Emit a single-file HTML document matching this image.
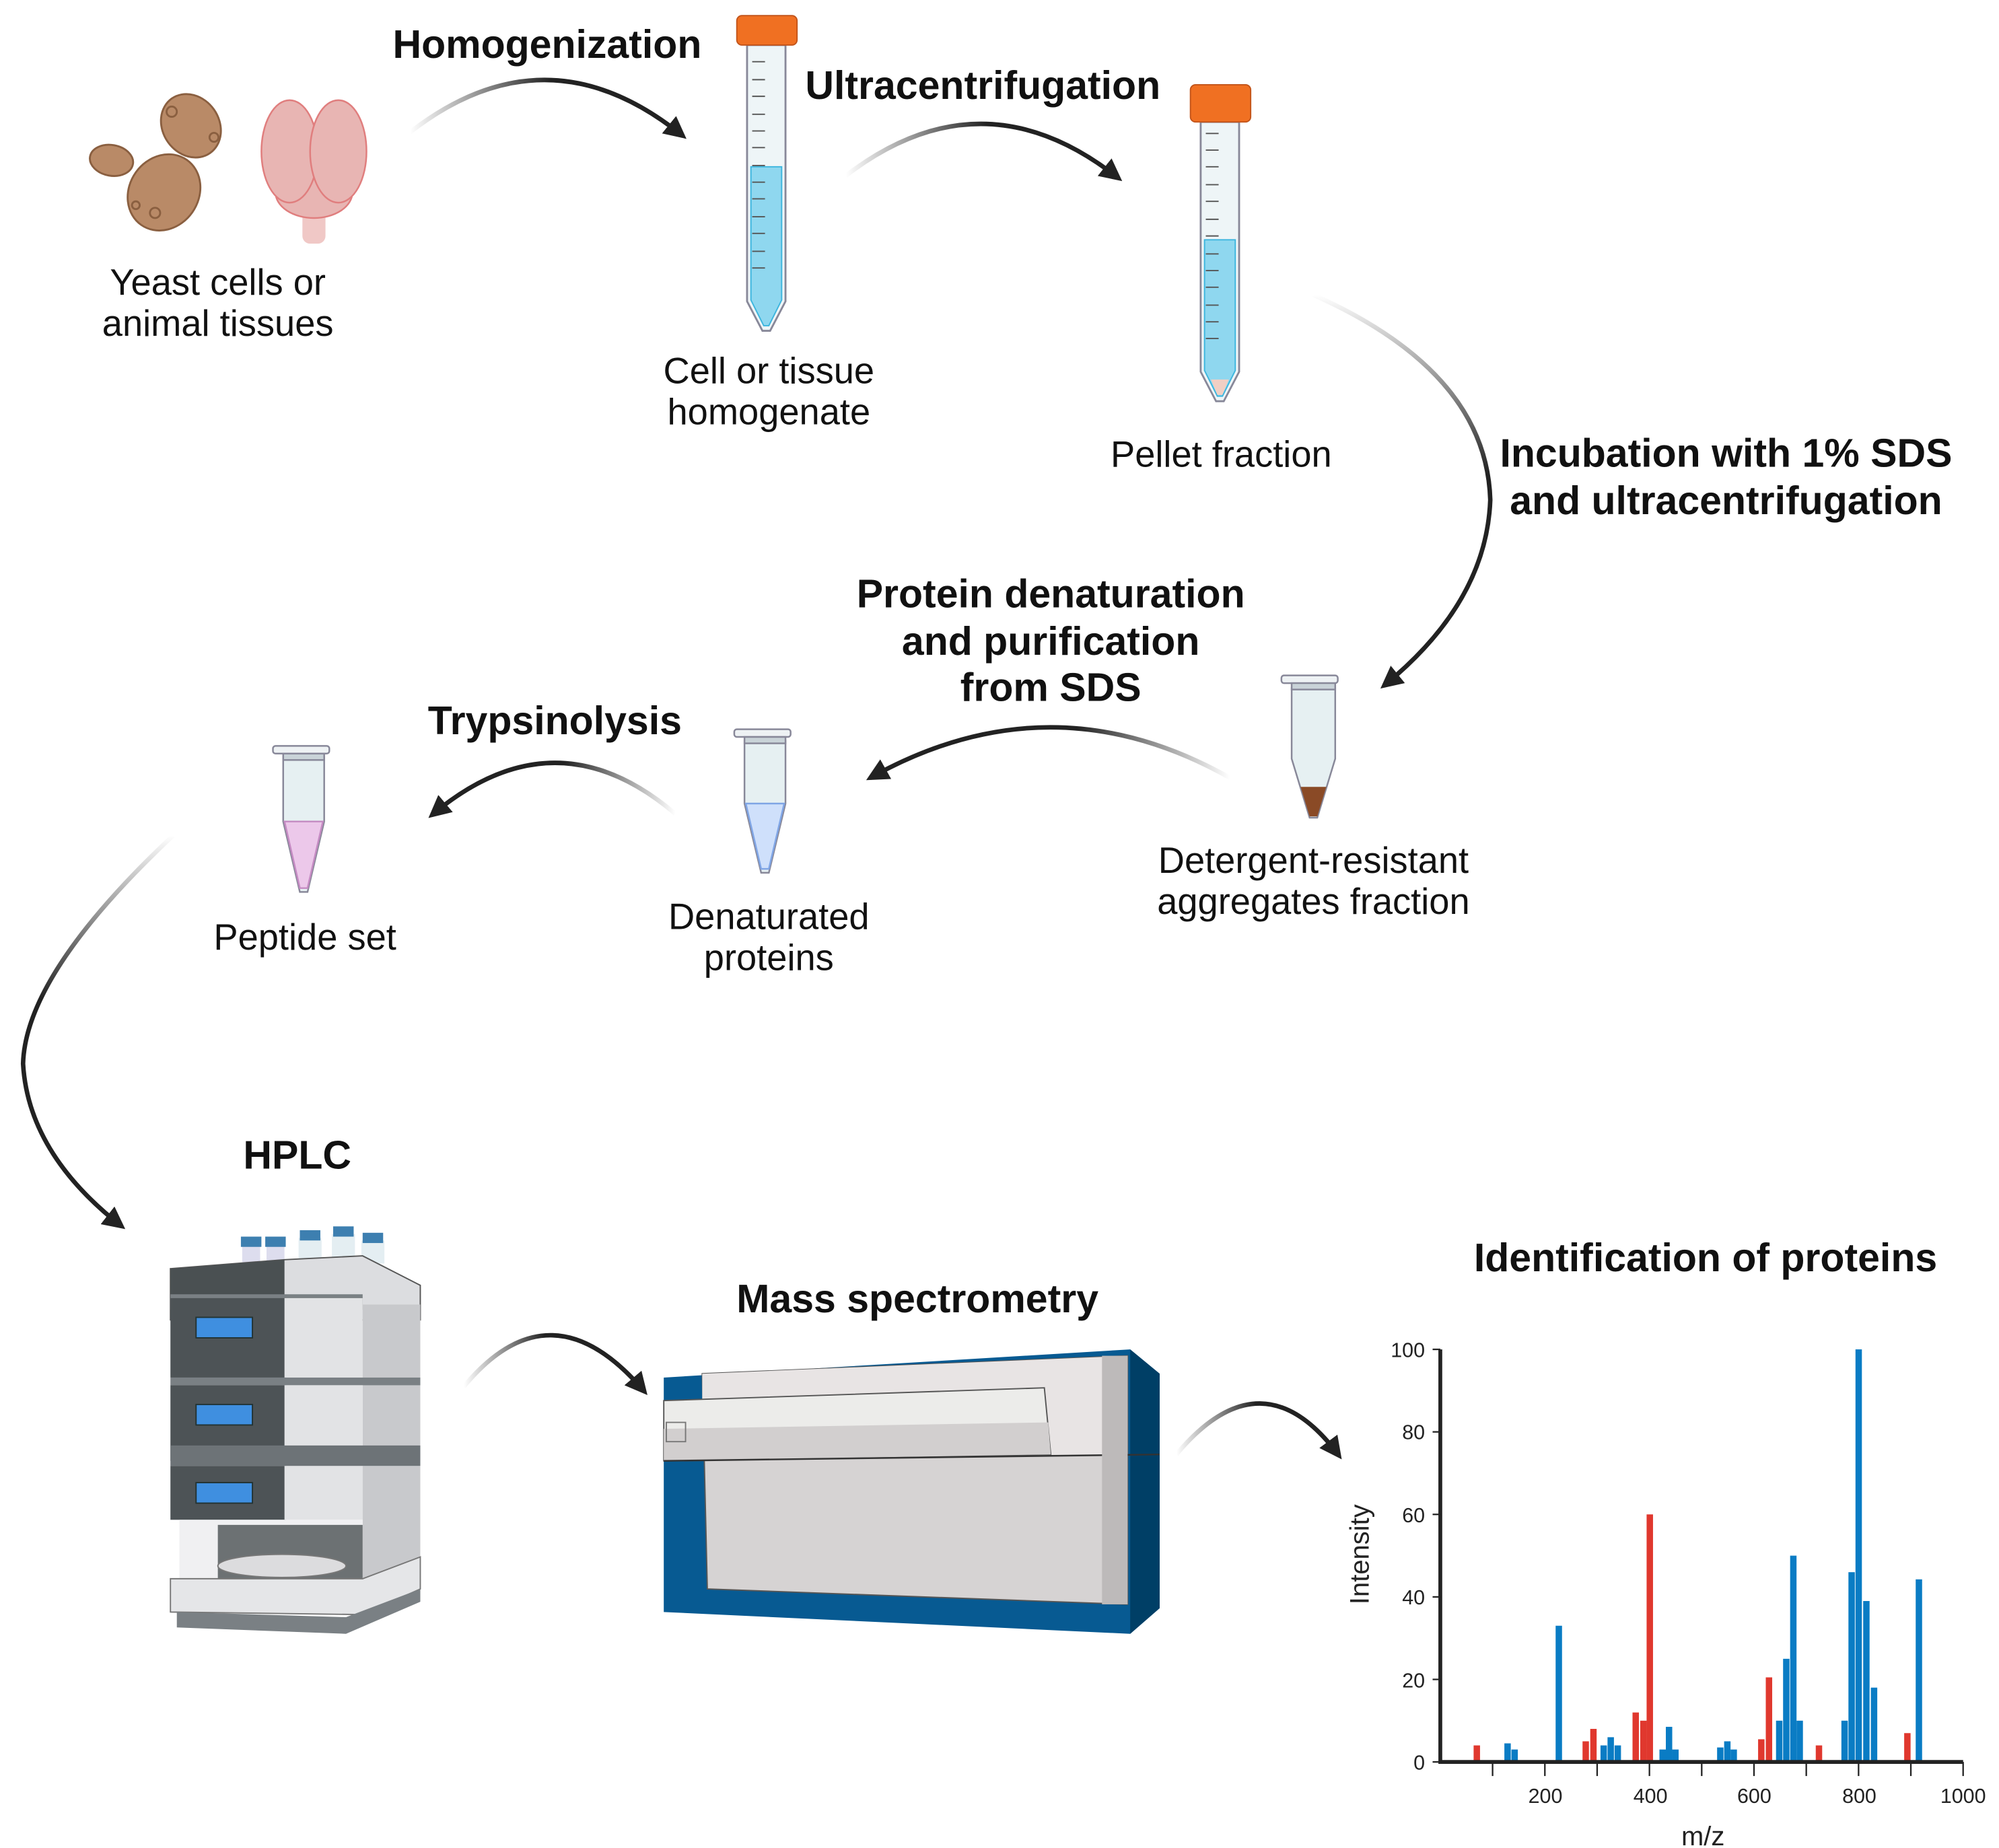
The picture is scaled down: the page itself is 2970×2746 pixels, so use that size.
<!DOCTYPE html>
<html><head><meta charset="utf-8"><style>
html,body{margin:0;padding:0;background:#fff;}
svg{display:block;}
text{font-family:"Liberation Sans",sans-serif;}
.b{font-weight:bold;font-size:31px;fill:#111;}
.n{font-size:28.5px;fill:#111;}
.ax{font-size:16px;fill:#222;}
</style></head><body>
<svg width="2970" height="2746" viewBox="0 0 1560 1442" xmlns="http://www.w3.org/2000/svg">
<defs>
<marker id="ah" viewBox="0 0 10 10" refX="8" refY="5" markerWidth="5" markerHeight="5" orient="auto" markerUnits="strokeWidth">
<path d="M0,0 L10,5 L0,10 z" fill="#222"/></marker>
<linearGradient id="g1" gradientUnits="userSpaceOnUse" x1="320" y1="0" x2="430" y2="0"><stop offset="0" stop-color="#222" stop-opacity="0"/><stop offset="1" stop-color="#222"/></linearGradient>
<linearGradient id="g2" gradientUnits="userSpaceOnUse" x1="660" y1="0" x2="770" y2="0"><stop offset="0" stop-color="#222" stop-opacity="0"/><stop offset="1" stop-color="#222"/></linearGradient>
<linearGradient id="g3" gradientUnits="userSpaceOnUse" x1="0" y1="230" x2="0" y2="370"><stop offset="0" stop-color="#222" stop-opacity="0"/><stop offset="1" stop-color="#222"/></linearGradient>
<linearGradient id="g4" gradientUnits="userSpaceOnUse" x1="960" y1="0" x2="840" y2="0"><stop offset="0" stop-color="#222" stop-opacity="0"/><stop offset="1" stop-color="#222"/></linearGradient>
<linearGradient id="g5" gradientUnits="userSpaceOnUse" x1="527" y1="0" x2="440" y2="0"><stop offset="0" stop-color="#222" stop-opacity="0"/><stop offset="1" stop-color="#222"/></linearGradient>
<linearGradient id="g6" gradientUnits="userSpaceOnUse" x1="0" y1="652" x2="0" y2="780"><stop offset="0" stop-color="#222" stop-opacity="0"/><stop offset="1" stop-color="#222"/></linearGradient>
<linearGradient id="g7" gradientUnits="userSpaceOnUse" x1="362" y1="0" x2="425" y2="0"><stop offset="0" stop-color="#222" stop-opacity="0"/><stop offset="1" stop-color="#222"/></linearGradient>
<linearGradient id="g8" gradientUnits="userSpaceOnUse" x1="918" y1="0" x2="980" y2="0"><stop offset="0" stop-color="#222" stop-opacity="0"/><stop offset="1" stop-color="#222"/></linearGradient>
</defs>

<g fill="none" stroke-width="3.5" marker-end="url(#ah)">
<path d="M320,103 Q427,20 533,106" stroke="url(#g1)"/>
<path d="M660,137 Q767,55 873,139" stroke="url(#g2)"/>
<path d="M1025,230 Q1160,290 1163,390 Q1160,470 1080,535" stroke="url(#g3)"/>
<path d="M960,607 Q820,528 679,607" stroke="url(#g4)"/>
<path d="M527,635 Q433,555 337,636" stroke="url(#g5)"/>
<path d="M135,652 Q20,760 18,830 Q22,900 95,957" stroke="url(#g6)"/>
<path d="M362,1082 Q430,1000 503,1086" stroke="url(#g7)"/>
<path d="M918,1135 Q985,1055 1045,1136" stroke="url(#g8)"/>
</g>

<text class="b" x="427" y="45" text-anchor="middle">Homogenization</text>
<text class="b" x="767" y="77" text-anchor="middle">Ultracentrifugation</text>
<text class="b" x="1347" y="364" text-anchor="middle">Incubation with 1% SDS</text>
<text class="b" x="1347" y="401" text-anchor="middle">and ultracentrifugation</text>
<text class="b" x="820" y="474" text-anchor="middle">Protein denaturation</text>
<text class="b" x="820" y="511" text-anchor="middle">and purification</text>
<text class="b" x="820" y="547" text-anchor="middle">from SDS</text>
<text class="b" x="433" y="573" text-anchor="middle">Trypsinolysis</text>
<text class="b" x="232" y="912" text-anchor="middle">HPLC</text>
<text class="b" x="716" y="1024" text-anchor="middle">Mass spectrometry</text>
<text class="b" x="1331" y="992" text-anchor="middle">Identification of proteins</text>

<text class="n" x="170" y="230" text-anchor="middle">Yeast cells or</text>
<text class="n" x="170" y="262" text-anchor="middle">animal tissues</text>
<text class="n" x="600" y="299" text-anchor="middle">Cell or tissue</text>
<text class="n" x="600" y="331" text-anchor="middle">homogenate</text>
<text class="n" x="953" y="364" text-anchor="middle">Pellet fraction</text>
<text class="n" x="1025" y="681" text-anchor="middle">Detergent-resistant</text>
<text class="n" x="1025" y="713" text-anchor="middle">aggregates fraction</text>
<text class="n" x="600" y="725" text-anchor="middle">Denaturated</text>
<text class="n" x="600" y="757" text-anchor="middle">proteins</text>
<text class="n" x="238" y="741" text-anchor="middle">Peptide set</text>

<g fill="#b98a67" stroke="#8a5f40" stroke-width="1.5">
<ellipse cx="87" cy="125" rx="17" ry="12" transform="rotate(10 87 125)"/>
<ellipse cx="149" cy="98" rx="22" ry="26" transform="rotate(-35 149 98)"/>
<ellipse cx="128" cy="150" rx="27" ry="31" transform="rotate(35 128 150)"/>
<circle cx="134" cy="87" r="4"/><circle cx="167" cy="107" r="3.5"/><circle cx="121" cy="166" r="4"/><circle cx="106" cy="160" r="3"/>
</g>
<g fill="#e8b5b3" stroke="#e07e7e" stroke-width="1.3">
<rect x="236" y="160" width="18" height="30" rx="6" fill="#f0c8c6" stroke="none"/>
<ellipse cx="245" cy="150" rx="30" ry="20"/>
<ellipse cx="226" cy="118" rx="22" ry="40"/>
<ellipse cx="264" cy="118" rx="22" ry="40"/>
</g>

<g>
<path d="M583,35 L583,235 L595,258 L601,258 L613,235 L613,35 Z" fill="#eef5f7" stroke="#889" stroke-width="1.5"/>
<path d="M586,130 L586,234 L596,254 L600,254 L610,234 L610,130 Z" fill="#8fd7ef" stroke="#3bb5de"/>
<rect x="575" y="12" width="47" height="23" rx="4" fill="#f07022" stroke="#c2541a"/>
<g stroke="#555" stroke-width="1">
<line x1="587" y1="48" x2="597" y2="48"/><line x1="587" y1="62" x2="597" y2="62"/><line x1="587" y1="75" x2="597" y2="75"/><line x1="587" y1="89" x2="597" y2="89"/><line x1="587" y1="102" x2="597" y2="102"/><line x1="587" y1="115" x2="597" y2="115"/><line x1="587" y1="129" x2="597" y2="129"/><line x1="587" y1="142" x2="597" y2="142"/><line x1="587" y1="155" x2="597" y2="155"/><line x1="587" y1="169" x2="597" y2="169"/><line x1="587" y1="182" x2="597" y2="182"/><line x1="587" y1="196" x2="597" y2="196"/><line x1="587" y1="209" x2="597" y2="209"/>
</g></g>
<g>
<path d="M937,95 L937,290 L949,313 L955,313 L967,290 L967,95 Z" fill="#eef5f7" stroke="#889" stroke-width="1.5"/>
<path d="M940,187 L940,289 L950,309 L954,309 L964,289 L964,187 Z" fill="#8fd7ef" stroke="#3bb5de"/>
<path d="M945,296 L959,296 L954,308 L950,308 Z" fill="#f0cfc4"/>
<rect x="929" y="66" width="47" height="29" rx="4" fill="#f07022" stroke="#c2541a"/>
<g stroke="#555" stroke-width="1">
<line x1="941" y1="104" x2="951" y2="104"/><line x1="941" y1="117" x2="951" y2="117"/><line x1="941" y1="130" x2="951" y2="130"/><line x1="941" y1="144" x2="951" y2="144"/><line x1="941" y1="157" x2="951" y2="157"/><line x1="941" y1="171" x2="951" y2="171"/><line x1="941" y1="184" x2="951" y2="184"/><line x1="941" y1="198" x2="951" y2="198"/><line x1="941" y1="211" x2="951" y2="211"/><line x1="941" y1="224" x2="951" y2="224"/><line x1="941" y1="238" x2="951" y2="238"/><line x1="941" y1="251" x2="951" y2="251"/><line x1="941" y1="264" x2="951" y2="264"/>
</g></g>

<g stroke="#889" stroke-width="1.3">
<path d="M1008,537 L1008,592 L1022,638 L1028,638 L1042,592 L1042,537 Z" fill="#e6f0f2"/>
<path d="M1015,614 L1035,614 L1028,637 L1022,637 Z" fill="#8a4a26" stroke="none"/>
<rect x="1000" y="527" width="44" height="6" rx="2" fill="#eef2f4"/>
<rect x="1008" y="533" width="34" height="5" fill="#c9d3d8"/>
<path d="M581,578 L581,627 L594,681 L600,681 L613,627 L613,578 Z" fill="#e6f0f2"/>
<path d="M582,627 L612,627 L600,678 L594,678 Z" fill="#cfe0fb" stroke="#7fa5e5"/>
<rect x="573" y="569" width="44" height="6" rx="2" fill="#eef2f4"/>
<rect x="581" y="575" width="32" height="5" fill="#c9d3d8"/>
<path d="M221,591 L221,641 L234,696 L240,696 L253,641 L253,591 Z" fill="#e6f0f2"/>
<path d="M222,641 L252,641 L240,693 L234,693 Z" fill="#ecc8ea" stroke="#c48ac2"/>
<rect x="213" y="582" width="44" height="6" rx="2" fill="#eef2f4"/>
<rect x="221" y="588" width="32" height="5" fill="#c9d3d8"/>
</g>

<g>
<rect x="189" y="969" width="14" height="16" fill="#dde"/><rect x="188" y="965" width="16" height="8" fill="#3d7fb0"/>
<rect x="208" y="969" width="14" height="16" fill="#dde"/><rect x="207" y="965" width="16" height="8" fill="#3d7fb0"/>
<rect x="233" y="966" width="18" height="20" fill="#e4eef2"/><rect x="234" y="960" width="16" height="8" fill="#3d7fb0"/>
<rect x="259" y="963" width="18" height="23" fill="#e4eef2"/><rect x="260" y="957" width="16" height="8" fill="#3d7fb0"/>
<rect x="282" y="968" width="18" height="18" fill="#e4eef2"/><rect x="283" y="962" width="16" height="8" fill="#3d7fb0"/>
<path d="M133,990 L222,983 L283,980 L328,1003 L328,1030 L133,1030 Z" fill="#dcdde0" stroke="#555"/>
<path d="M133,990 L222,983 L222,1030 L133,1030 Z" fill="#4a5052"/>
<rect x="133" y="1010" width="150" height="12" fill="#7a8084"/>
<rect x="133" y="1013" width="90" height="62" fill="#4d5356"/>
<rect x="222" y="1013" width="61" height="62" fill="#e2e3e5"/>
<rect x="283" y="1018" width="45" height="122" fill="#c8c9cc"/>
<rect x="133" y="1075" width="195" height="6" fill="#7a8084"/>
<rect x="133" y="1081" width="90" height="59" fill="#4d5356"/>
<rect x="222" y="1081" width="61" height="59" fill="#e2e3e5"/>
<rect x="133" y="1128" width="195" height="16" fill="#6d7377"/>
<rect x="133" y="1144" width="90" height="42" fill="#4d5356"/>
<rect x="222" y="1144" width="61" height="42" fill="#e2e3e5"/>
<rect x="283" y="1144" width="45" height="92" fill="#c8c9cc"/>
<rect x="140" y="1186" width="143" height="46" fill="#f0f0f2"/>
<path d="M170,1190 L283,1190 L283,1232 L170,1232 Z" fill="#555a5d" opacity="0.85"/>
<ellipse cx="220" cy="1222" rx="50" ry="9" fill="#dcdcde" stroke="#777"/>
<path d="M133,1232 L283,1232 L328,1215 L328,1240 L283,1260 L133,1258 Z" fill="#e5e6e8" stroke="#777"/>
<path d="M138,1258 L270,1262 L328,1240 L328,1250 L270,1275 L138,1270 Z" fill="#7a8084"/>
<rect x="153" y="1028" width="44" height="16" fill="#3f8fe0" stroke="#233"/>
<rect x="153" y="1096" width="44" height="16" fill="#3f8fe0" stroke="#233"/>
<rect x="153" y="1157" width="44" height="16" fill="#3f8fe0" stroke="#233"/>
</g>

<g>
<path d="M518,1075 L882,1053 L905,1072 L905,1255 L882,1275 L518,1258 Z" fill="#075a92"/>
<path d="M882,1053 L905,1072 L905,1255 L882,1275 Z" fill="#003f66"/>
<path d="M548,1072 L880,1058 L880,1252 L552,1240 Z" fill="#d6d3d3" stroke="#555" stroke-width="1"/>
<path d="M548,1072 L880,1058 L880,1135 L548,1140 Z" fill="#e8e4e4"/>
<path d="M518,1093 L815,1083 L820,1135 L518,1140 Z" fill="#ececea" stroke="#555"/>
<path d="M518,1115 L818,1110 L820,1135 L518,1140 Z" fill="#d2cfcf"/>
<line x1="518" y1="1140" x2="905" y2="1135" stroke="#333" stroke-width="1.3"/>
<rect x="860" y="1058" width="20" height="194" fill="#bdbaba"/>
<path d="M520,1110 L535,1110 L535,1125 L520,1125 Z" fill="none" stroke="#777"/>
</g>

<g>
<g fill="#0a7cc4">
<rect x="1174" y="1360.5" width="5" height="14.5"/><rect x="1179.5" y="1365.3" width="5" height="9.7"/>
<rect x="1214" y="1268.7" width="5" height="106.3"/>
<rect x="1249" y="1362.1" width="5" height="12.9"/><rect x="1254.5" y="1355.7" width="5" height="19.3"/><rect x="1260" y="1362.1" width="5" height="12.9"/>
<rect x="1295" y="1365.3" width="5" height="9.7"/><rect x="1300" y="1347.6" width="5" height="27.4"/><rect x="1305" y="1365.3" width="5" height="9.7"/>
<rect x="1340" y="1363.7" width="5" height="11.3"/><rect x="1345.5" y="1358.9" width="5" height="16.1"/><rect x="1350.5" y="1365.3" width="5" height="9.7"/>
<rect x="1386" y="1342.8" width="5" height="32.2"/><rect x="1391.5" y="1294.5" width="5" height="80.5"/><rect x="1397" y="1214" width="5" height="161"/><rect x="1402" y="1342.8" width="5" height="32.2"/>
<rect x="1437" y="1342.8" width="5" height="32.2"/><rect x="1442.5" y="1226.9" width="5" height="148.1"/><rect x="1448" y="1053" width="5" height="322"/><rect x="1454" y="1249.4" width="5" height="125.6"/><rect x="1460" y="1317" width="5" height="58"/>
<rect x="1495" y="1232.5" width="5" height="142.5"/>
</g>
<g fill="#e0382e">
<rect x="1150" y="1362.1" width="5" height="12.9"/>
<rect x="1235" y="1358.9" width="5" height="16.1"/><rect x="1241" y="1349.2" width="5" height="25.8"/>
<rect x="1274" y="1336.4" width="5" height="38.6"/><rect x="1280" y="1342.8" width="5" height="32.2"/><rect x="1285" y="1181.8" width="5" height="193.2"/>
<rect x="1372" y="1357.3" width="5" height="17.7"/><rect x="1378" y="1309" width="5" height="66"/>
<rect x="1417" y="1362.1" width="5" height="12.9"/>
<rect x="1486" y="1352.5" width="5" height="22.5"/>
</g>
<g stroke="#222" fill="none">
<path d="M1124,1053 L1124,1375 L1532,1375" stroke-width="3"/>
<g stroke-width="1.2">
<line x1="1118" y1="1053" x2="1124" y2="1053"/><line x1="1118" y1="1117.4" x2="1124" y2="1117.4"/><line x1="1118" y1="1181.8" x2="1124" y2="1181.8"/><line x1="1118" y1="1246.2" x2="1124" y2="1246.2"/><line x1="1118" y1="1310.6" x2="1124" y2="1310.6"/><line x1="1118" y1="1375" x2="1124" y2="1375"/>
<line x1="1164.8" y1="1375" x2="1164.8" y2="1386"/><line x1="1205.6" y1="1375" x2="1205.6" y2="1386"/><line x1="1246.4" y1="1375" x2="1246.4" y2="1386"/><line x1="1287.2" y1="1375" x2="1287.2" y2="1386"/><line x1="1328" y1="1375" x2="1328" y2="1386"/><line x1="1368.8" y1="1375" x2="1368.8" y2="1386"/><line x1="1409.6" y1="1375" x2="1409.6" y2="1386"/><line x1="1450.4" y1="1375" x2="1450.4" y2="1386"/><line x1="1491.2" y1="1375" x2="1491.2" y2="1386"/><line x1="1532" y1="1375" x2="1532" y2="1386"/>
</g></g>
<g class="ax" text-anchor="end">
<text x="1112" y="1059">100</text><text x="1112" y="1123">80</text><text x="1112" y="1188">60</text><text x="1112" y="1252">40</text><text x="1112" y="1317">20</text><text x="1112" y="1381">0</text>
</g>
<g class="ax" text-anchor="middle">
<text x="1206" y="1407">200</text><text x="1288" y="1407">400</text><text x="1369" y="1407">600</text><text x="1451" y="1407">800</text><text x="1532" y="1407">1000</text>
</g>
<text x="1329" y="1440" text-anchor="middle" style="font-size:21px;fill:#222">m/z</text>
<text x="0" y="0" transform="translate(1068,1213) rotate(-90)" text-anchor="middle" style="font-size:21px;fill:#222">Intensity</text>
</g>
</svg>
</body></html>
